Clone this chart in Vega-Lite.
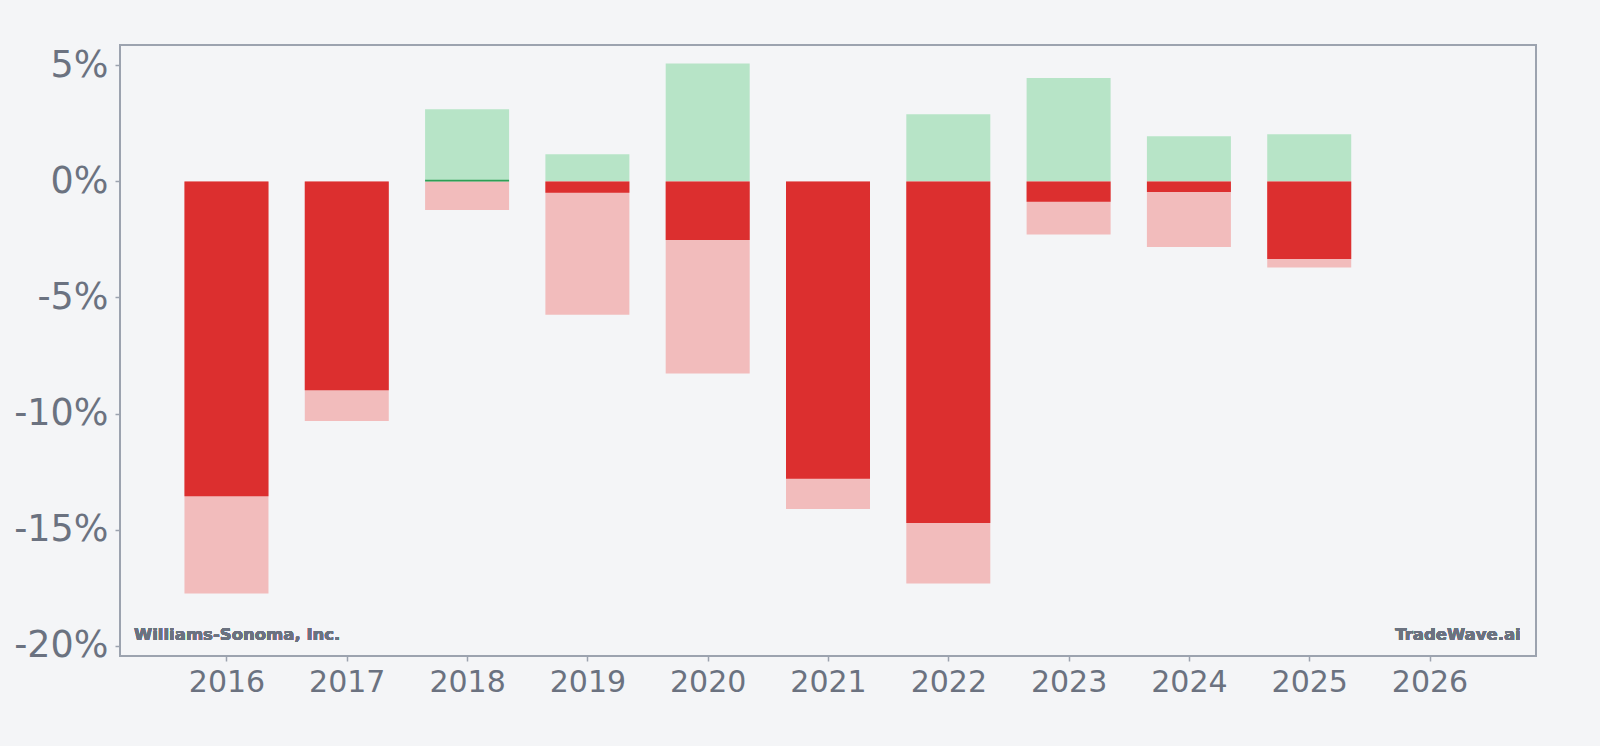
{
  "$schema": "https://vega.github.io/schema/vega-lite/v6.json",
  "width": 1416,
  "height": 611,
  "autosize": {"type": "none"},
  "padding": {"left": 120, "top": 45, "right": 64, "bottom": 90},
  "background": "#f4f5f7",
  "config": {
    "view": {"stroke": "#9ca3af", "strokeWidth": 2, "fill": "#f4f5f7"},
    "font": "DejaVu Sans"
  },
  "data": {
    "values": [
      {"year": 2016, "hi": 0, "lo": -17.76, "ret": -13.57},
      {"year": 2017, "hi": 0, "lo": -10.32, "ret": -9.0},
      {"year": 2018, "hi": 3.11, "lo": -1.23, "ret": 0.07},
      {"year": 2019, "hi": 1.17, "lo": -5.74, "ret": -0.49},
      {"year": 2020, "hi": 5.08, "lo": -8.28, "ret": -2.52},
      {"year": 2021, "hi": 0, "lo": -14.12, "ret": -12.81},
      {"year": 2022, "hi": 2.9, "lo": -17.33, "ret": -14.72},
      {"year": 2023, "hi": 4.46, "lo": -2.29, "ret": -0.88},
      {"year": 2024, "hi": 1.95, "lo": -2.82, "ret": -0.45},
      {"year": 2025, "hi": 2.03, "lo": -3.71, "ret": -3.34}
    ]
  },
  "encoding": {
    "x": {
      "field": "year",
      "type": "quantitative",
      "scale": {"domain": [2015.115, 2026.885], "nice": false, "zero": false, "padding": 0},
      "axis": {
        "values": [2016, 2017, 2018, 2019, 2020, 2021, 2022, 2023, 2024, 2025, 2026],
        "format": "d",
        "title": null,
        "grid": false,
        "domain": false,
        "tickColor": "#9ca3af",
        "tickSize": 5,
        "tickWidth": 1.5,
        "labelFontSize": 30,
        "labelColor": "#6b7280",
        "labelPadding": 6,
        "labelFlush": false,
        "labelOverlap": false
      }
    }
  },
  "layer": [
    {
      "transform": [{"filter": "datum.hi > 0"}],
      "mark": {"type": "bar", "size": 84, "color": "#b7e4c7"},
      "encoding": {
        "y": {
          "field": "hi",
          "type": "quantitative",
          "scale": {"domain": [-20.45, 5.88], "nice": false},
          "axis": {
            "values": [-20, -15, -10, -5, 0, 5],
            "labelExpr": "datum.value + '%'",
            "title": null,
            "grid": false,
            "domain": false,
            "tickColor": "#9ca3af",
            "tickSize": 5,
            "tickWidth": 1.5,
            "labelFontSize": 36.5,
            "labelColor": "#6b7280",
            "labelPadding": 7
          }
        }
      }
    },
    {
      "mark": {"type": "bar", "size": 84, "color": "#f2bcbc"},
      "encoding": {"y": {"field": "lo", "type": "quantitative"}}
    },
    {
      "mark": {"type": "bar", "size": 84},
      "encoding": {
        "y": {"field": "ret", "type": "quantitative"},
        "color": {
          "condition": {"test": "datum.ret >= 0", "value": "#2e9e55"},
          "value": "#dc2f2f"
        }
      }
    },
    {
      "mark": {"type": "rule", "color": "#9399a6", "strokeWidth": 2},
      "encoding": {"y": {"datum": 0, "type": "quantitative"}}
    },
    {
      "mark": {"type": "text", "align": "left", "baseline": "alphabetic", "fontWeight": "bold", "fontSize": 16.5, "color": "#6b7280"},
      "encoding": {
        "x": {"datum": 2015.231, "type": "quantitative"},
        "y": {"datum": -19.78, "type": "quantitative"},
        "text": {"value": "Williams-Sonoma, Inc."}
      }
    },
    {
      "mark": {"type": "text", "align": "right", "baseline": "alphabetic", "fontWeight": "bold", "fontSize": 16.5, "color": "#6b7280"},
      "encoding": {
        "x": {"datum": 2026.758, "type": "quantitative"},
        "y": {"datum": -19.78, "type": "quantitative"},
        "text": {"value": "TradeWave.ai"}
      }
    }
  ]
}
